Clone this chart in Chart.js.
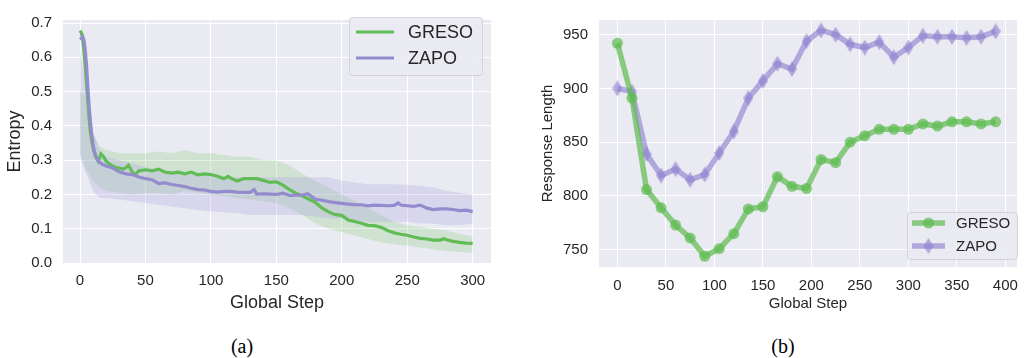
<!DOCTYPE html>
<html>
<head>
<meta charset="utf-8">
<script src="https://cdn.jsdelivr.net/npm/chart.js@4.4.0/dist/chart.umd.min.js"></script>
<style>
  body { margin: 0; background: #fff; width: 1028px; height: 358px; position: relative; overflow: hidden; }
  .panel { position: absolute; top: 0; height: 320px; }
  #pa { left: 0; width: 520px; }
  #pb { left: 520px; width: 508px; }
  .cap { position: absolute; top: 335px; font: 20px "Liberation Serif", "Times New Roman", serif; color: #000; transform: translateX(-50%); }
</style>
</head>
<body>
<div class="panel" id="pa"><canvas id="entropyChart" width="520" height="320"></canvas></div>
<div class="panel" id="pb"><canvas id="lengthChart" width="508" height="320"></canvas></div>
<div class="cap" style="left:242px">(a)</div>
<div class="cap" style="left:783px">(b)</div>
<script>
// (a) entropy - mean curves
const gresoSteps = [0, 1, 2, 3, 4, 5, 6, 7, 8, 9, 10, 12, 14, 16, 18, 20, 22, 25, 28, 30, 33, 35, 37, 40, 42, 45, 50, 55, 60, 65, 70, 75, 80, 85, 90, 95, 100, 105, 110, 113, 115, 120, 125, 130, 135, 140, 145, 150, 155, 160, 165, 170, 175, 180, 185, 190, 195, 200, 205, 210, 215, 220, 225, 230, 235, 240, 245, 250, 255, 260, 265, 270, 275, 278, 280, 285, 290, 295, 300];
const gresoEntropy = [0.678, 0.672, 0.655, 0.62, 0.57, 0.52, 0.47, 0.42, 0.38, 0.355, 0.335, 0.31, 0.297, 0.318, 0.31, 0.297, 0.29, 0.283, 0.278, 0.277, 0.274, 0.278, 0.285, 0.265, 0.258, 0.269, 0.272, 0.269, 0.274, 0.265, 0.262, 0.265, 0.26, 0.265, 0.257, 0.26, 0.258, 0.253, 0.246, 0.253, 0.248, 0.239, 0.246, 0.246, 0.246, 0.241, 0.235, 0.237, 0.227, 0.214, 0.204, 0.195, 0.186, 0.176, 0.16, 0.149, 0.141, 0.139, 0.125, 0.121, 0.116, 0.11, 0.109, 0.104, 0.095, 0.088, 0.084, 0.081, 0.076, 0.072, 0.07, 0.067, 0.067, 0.071, 0.068, 0.063, 0.06, 0.058, 0.057];

const zapoSteps = [0, 1, 2, 3, 4, 5, 6, 7, 8, 9, 10, 11, 12, 14, 17, 20, 25, 30, 35, 40, 45, 50, 55, 60, 65, 70, 75, 80, 85, 90, 95, 100, 105, 110, 115, 120, 125, 130, 133, 135, 140, 145, 150, 155, 160, 165, 170, 174, 180, 185, 190, 195, 200, 205, 210, 215, 220, 225, 230, 235, 240, 243, 245, 250, 255, 260, 265, 270, 275, 280, 285, 290, 295, 300];
const zapoEntropy = [0.652, 0.655, 0.661, 0.65, 0.62, 0.576, 0.51, 0.455, 0.41, 0.371, 0.345, 0.325, 0.313, 0.297, 0.288, 0.283, 0.277, 0.266, 0.26, 0.258, 0.251, 0.246, 0.243, 0.232, 0.234, 0.229, 0.226, 0.223, 0.218, 0.214, 0.213, 0.209, 0.207, 0.209, 0.209, 0.207, 0.206, 0.206, 0.214, 0.201, 0.202, 0.201, 0.2, 0.204, 0.197, 0.198, 0.198, 0.202, 0.186, 0.183, 0.179, 0.176, 0.174, 0.172, 0.17, 0.17, 0.167, 0.169, 0.168, 0.167, 0.168, 0.175, 0.169, 0.167, 0.165, 0.169, 0.16, 0.156, 0.158, 0.158, 0.156, 0.153, 0.154, 0.15];

// (a) entropy - shaded spread
const bandSteps = [0, 5, 10, 15, 20, 30, 40, 50, 60, 70, 80, 90, 100, 110, 120, 130, 140, 150, 160, 170, 180, 190, 200, 210, 220, 230, 240, 250, 260, 270, 280, 290, 300];
const gresoUpper = [0.5, 0.48, 0.38, 0.34, 0.33, 0.32, 0.32, 0.32, 0.325, 0.32, 0.33, 0.32, 0.32, 0.315, 0.31, 0.31, 0.3, 0.3, 0.285, 0.26, 0.24, 0.22, 0.2, 0.18, 0.16, 0.14, 0.12, 0.11, 0.105, 0.1, 0.095, 0.085, 0.078];
const gresoLower = [0.32, 0.27, 0.24, 0.22, 0.21, 0.205, 0.2, 0.205, 0.205, 0.2, 0.21, 0.205, 0.2, 0.195, 0.19, 0.185, 0.18, 0.175, 0.16, 0.14, 0.115, 0.1, 0.09, 0.08, 0.07, 0.06, 0.055, 0.05, 0.045, 0.04, 0.035, 0.032, 0.03];
const zapoUpper = [0.62, 0.5, 0.38, 0.33, 0.31, 0.3, 0.29, 0.28, 0.27, 0.265, 0.26, 0.255, 0.255, 0.25, 0.25, 0.25, 0.25, 0.25, 0.25, 0.25, 0.25, 0.25, 0.24, 0.235, 0.23, 0.23, 0.23, 0.228, 0.225, 0.22, 0.21, 0.205, 0.2];
const zapoLower = [0.306, 0.26, 0.21, 0.19, 0.19, 0.185, 0.18, 0.175, 0.17, 0.165, 0.16, 0.155, 0.15, 0.148, 0.145, 0.14, 0.14, 0.14, 0.14, 0.14, 0.135, 0.13, 0.13, 0.125, 0.12, 0.12, 0.12, 0.12, 0.115, 0.115, 0.11, 0.11, 0.115];

const entropyXTicks = [0, 50, 100, 150, 200, 250, 300];
const entropyYTicks = [0, 0.1, 0.2, 0.3, 0.4, 0.5, 0.6, 0.7];

// (b) response length
const lengthSteps = [0, 15, 30, 45, 60, 75, 90, 105, 120, 135, 150, 165, 180, 195, 210, 225, 240, 255, 270, 285, 300, 315, 330, 345, 360, 375, 390];
const gresoLength = [942, 891, 806, 789, 773, 761, 744, 751, 765, 788, 790, 818, 809, 807, 834, 831, 850, 856, 862, 862, 862, 867, 865, 869, 869, 867, 869];
const zapoLength = [900, 897, 839, 819, 825, 815, 820, 840, 860, 891, 907, 923, 918, 944, 954, 950, 941, 938, 943, 929, 938, 949, 948, 948, 947, 948, 953];

const lengthXTicks = [0, 50, 100, 150, 200, 250, 300, 350, 400];
const lengthYTicks = [750, 800, 850, 900, 950];

const GREEN = "rgb(98, 188, 86)";
const PURPLE = "rgb(148, 138, 206)";
const TEXT = "#262626";

Chart.defaults.font.family = "'Liberation Sans', Arial, sans-serif";
Chart.defaults.color = TEXT;

const pts = (xs, ys) => xs.map((x, i) => ({ x: x, y: ys[i] }));

// grey plotting area like seaborn
const panelBg = {
  id: "panelBg",
  beforeDraw(chart) {
    const { ctx, chartArea: a } = chart;
    ctx.save();
    ctx.fillStyle = "#eaeaf2";
    ctx.fillRect(a.left, a.top, a.right - a.left, a.bottom - a.top);
    ctx.restore();
  },
};

// legend drawn in a box inside the plot
const boxLegend = {
  id: "boxLegend",
  afterDraw(chart, args, o) {
    const ctx = chart.ctx;
    const items = chart.data.datasets.filter((d) => d.inLegend);
    ctx.save();
    ctx.beginPath();
    ctx.roundRect(o.x + 0.5, o.y + 0.5, o.w, o.h, 3);
    ctx.fillStyle = "rgba(234,234,242,0.85)";
    ctx.fill();
    ctx.strokeStyle = "#d2d2d8";
    ctx.lineWidth = 1;
    ctx.stroke();
    items.forEach((d, i) => {
      const y = o.y + o.first + i * o.rowH;
      ctx.strokeStyle = d.borderColor;
      ctx.lineWidth = d.borderWidth;
      ctx.lineCap = "butt";
      ctx.beginPath();
      ctx.moveTo(o.x + o.lx0, y);
      ctx.lineTo(o.x + o.lx1, y);
      ctx.stroke();
      if (d.pointRadius) {
        const mx = (o.x + o.lx0 + o.x + o.lx1) / 2;
        if (d.pointStyle instanceof HTMLCanvasElement) {
          ctx.drawImage(d.pointStyle, mx - d.pointStyle.width / 2, y - d.pointStyle.height / 2);
        } else {
          ctx.fillStyle = d.pointBackgroundColor;
          ctx.beginPath();
          ctx.arc(mx, y, d.pointRadius, 0, Math.PI * 2);
          ctx.fill();
        }
      }
      ctx.fillStyle = TEXT;
      ctx.font = o.fontSize + "px 'Liberation Sans', Arial, sans-serif";
      ctx.textBaseline = "middle";
      ctx.fillText(d.label, o.x + o.tx, y + 1);
    });
    ctx.restore();
  },
};

function fixedTicks(list) {
  return (axis) => { axis.ticks = list.map((v) => ({ value: v })); };
}

// ---------- (a) Entropy ----------
new Chart(document.getElementById("entropyChart"), {
  type: "line",
  data: {
    datasets: [
      { label: "gresoUpper", data: pts(bandSteps, gresoUpper), borderWidth: 0, pointRadius: 0, fill: false, order: 3 },
      { label: "gresoLower", data: pts(bandSteps, gresoLower), borderWidth: 0, pointRadius: 0, fill: "-1", backgroundColor: "rgba(120, 200, 110, 0.24)", order: 3 },
      { label: "zapoUpper", data: pts(bandSteps, zapoUpper), borderWidth: 0, pointRadius: 0, fill: false, order: 2 },
      { label: "zapoLower", data: pts(bandSteps, zapoLower), borderWidth: 0, pointRadius: 0, fill: "-1", backgroundColor: "rgba(165, 155, 225, 0.25)", order: 2 },
      { label: "GRESO", inLegend: true, data: pts(gresoSteps, gresoEntropy), borderColor: GREEN, borderWidth: 3.2, pointRadius: 0, fill: false, tension: 0, order: 1 },
      { label: "ZAPO", inLegend: true, data: pts(zapoSteps, zapoEntropy), borderColor: PURPLE, borderWidth: 3.2, pointRadius: 0, fill: false, tension: 0, order: 0 },
    ],
  },
  options: {
    responsive: false,
    animation: false,
    layout: { padding: { top: 10, right: 29, left: 0, bottom: 0 } },
    plugins: {
      legend: { display: false },
      tooltip: { enabled: false },
      boxLegend: { x: 349, y: 17, w: 133, h: 58, first: 15, rowH: 26, lx0: 7, lx1: 45, tx: 59, fontSize: 18 },
    },
    scales: {
      x: {
        type: "linear",
        min: -13,
        max: 314,
        afterBuildTicks: fixedTicks(entropyXTicks),
        afterFit: (a) => { a.height = 57; },
        grid: { color: "#ffffff", lineWidth: 1, drawTicks: false },
        border: { display: false },
        ticks: { padding: 9, font: { size: 15 }, color: TEXT },
        title: { display: true, text: "Global Step", font: { size: 18 }, color: TEXT, padding: { top: 0, bottom: 6 } },
      },
      y: {
        min: 0,
        max: 0.709,
        afterBuildTicks: fixedTicks(entropyYTicks),
        afterFit: (a) => { a.width = 63; },
        grid: { color: "#ffffff", lineWidth: 1, drawTicks: false },
        border: { display: false },
        ticks: { padding: 11, font: { size: 15 }, color: TEXT, callback: (v) => v.toFixed(1) },
        title: { display: true, text: "Entropy", font: { size: 18 }, color: TEXT, padding: { top: 4, bottom: 0 } },
      },
    },
  },
  plugins: [panelBg, boxLegend],
});

// ---------- (b) Response length ----------
function diamond(color) {
  const c = document.createElement("canvas");
  c.width = 10;
  c.height = 16;
  const g = c.getContext("2d");
  g.fillStyle = color;
  g.beginPath();
  g.moveTo(5, 0);
  g.lineTo(10, 8);
  g.lineTo(5, 16);
  g.lineTo(0, 8);
  g.closePath();
  g.fill();
  return c;
}

const GREEN_B = "rgba(96, 188, 82, 0.72)";
const PURPLE_B = "rgba(140, 128, 206, 0.62)";

new Chart(document.getElementById("lengthChart"), {
  type: "line",
  data: {
    labels: lengthSteps,
    datasets: [
      {
        label: "GRESO", inLegend: true,
        data: pts(lengthSteps, gresoLength),
        borderColor: GREEN_B, borderWidth: 5.5,
        pointStyle: "circle", pointRadius: 5.5, pointBackgroundColor: GREEN_B, pointBorderWidth: 0,
        fill: false, tension: 0,
      },
      {
        label: "ZAPO", inLegend: true,
        data: pts(lengthSteps, zapoLength),
        borderColor: PURPLE_B, borderWidth: 5.5,
        pointStyle: diamond(PURPLE_B), pointRadius: 5, pointBackgroundColor: PURPLE_B, pointBorderWidth: 0,
        fill: false, tension: 0,
      },
    ],
  },
  options: {
    responsive: false,
    animation: false,
    layout: { padding: { top: 14, right: 4, left: 0, bottom: 0 } },
    plugins: {
      legend: { display: false },
      tooltip: { enabled: false },
      boxLegend: { x: 387, y: 212, w: 110, h: 47, first: 11, rowH: 23, lx0: 5, lx1: 38, tx: 49, fontSize: 15 },
    },
    scales: {
      x: {
        type: "linear",
        min: -19,
        max: 412,
        afterBuildTicks: fixedTicks(lengthXTicks),
        afterFit: (a) => { a.height = 53; },
        grid: { color: "#ffffff", lineWidth: 1, drawTicks: false },
        border: { display: false },
        ticks: { padding: 10, font: { size: 15 }, color: TEXT },
        title: { display: true, text: "Global Step", font: { size: 15 }, color: TEXT, padding: { top: 0, bottom: 7 } },
      },
      y: {
        min: 734,
        max: 963.6,
        afterBuildTicks: fixedTicks(lengthYTicks),
        afterFit: (a) => { a.width = 79; },
        grid: { color: "#ffffff", lineWidth: 1, drawTicks: false },
        border: { display: false },
        ticks: { padding: 11, font: { size: 15 }, color: TEXT },
        title: { display: true, text: "Response Length", font: { size: 15 }, color: TEXT, padding: { top: 19, bottom: 0 } },
      },
    },
  },
  plugins: [panelBg, boxLegend],
});
</script>
</body>
</html>
